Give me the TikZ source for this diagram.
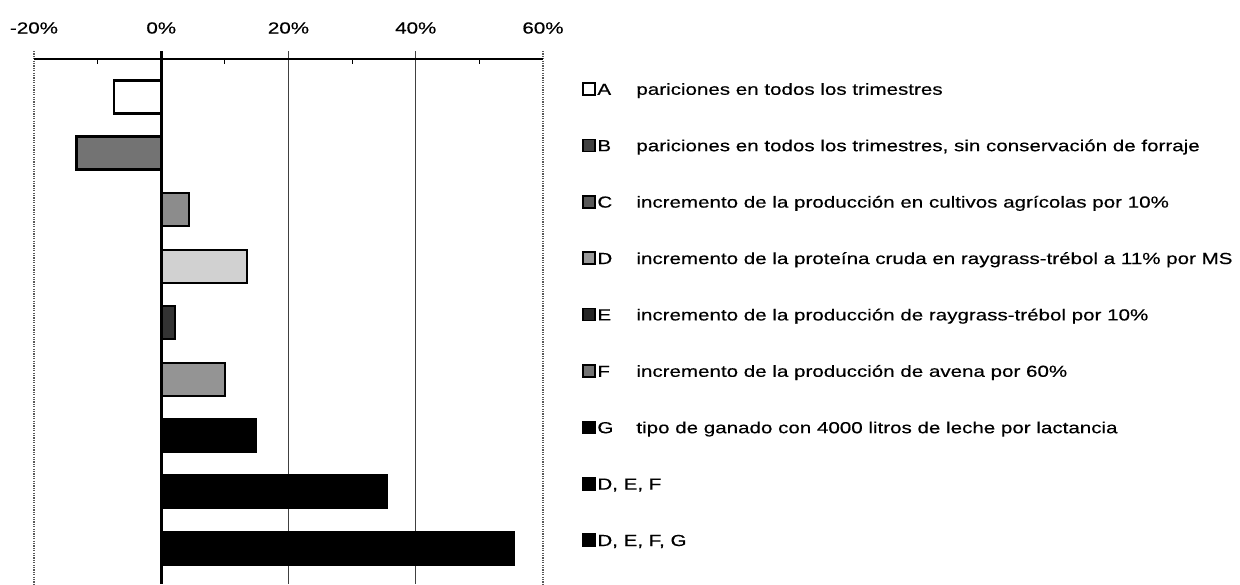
\documentclass[tikz,border=0pt]{standalone}
\usepackage{fontspec}
\setmainfont[FakeStretch=1.285,FakeBold=0.4]{Liberation Sans}
\begin{document}
\begin{tikzpicture}[x=0.5pt,y=-0.5pt,
  txt/.style={font=\fontsize{8}{9.6}\selectfont, inner sep=0pt, text=black},
  grid/.style={line width=0.5pt, black!75},
  zero/.style={line width=1.3pt, black},
  edge/.style={line width=1pt, black!65, dash pattern=on 0.6pt off 0.6pt},
  barbase/.style={draw=black, line width=1pt},
  barA/.style={barbase, line width=1.2pt, fill=white},
  barB/.style={barbase, line width=1.5pt, fill=black!55},
  barC/.style={barbase, fill=black!45},
  barD/.style={barbase, fill=black!18},
  barE/.style={barbase, fill=black!80},
  barF/.style={barbase, fill=black!42},
  barK/.style={barbase, fill=black},
  icon/.style={line width=0.8pt, draw=black}
]
\useasboundingbox (0,0) rectangle (1240,584);
% grid and frame
\draw[grid] (288.5,51) -- (288.5,584);
\draw[grid] (415.75,51) -- (415.75,584);
\draw[edge] (34,51) -- (34,584);
\draw[edge] (543,51) -- (543,584);
\draw[line width=0.75pt] (34,59) -- (543,59);
\foreach \v in {-10,10,30,50} \draw[line width=0.5pt] ({161.25+6.3625*\v},59) -- ({161.25+6.3625*\v},64);
% axis labels
\node[txt, anchor=base] (lm20) at (34,33.5) {-20\%};
\node[txt, anchor=base] (l0) at (161.25,33.5) {0\%};
\node[txt, anchor=base] (l20) at (288.5,33.5) {20\%};
\node[txt, anchor=base] (l40) at (415.75,33.5) {40\%};
\node[txt, anchor=base] (l60) at (543,33.5) {60\%};
% bars (y centre 97 + 56.4 i, height 33)
\draw[barA] (161.25,80.5) rectangle ({161.25+6.3625*-7.4},113.5);
\draw[barB] (161.25,136.9) rectangle ({161.25+6.3625*-13.3},169.9);
\draw[barC] (161.25,193.3) rectangle ({161.25+6.3625*4.3},226.3);
\draw[barD] (161.25,249.7) rectangle ({161.25+6.3625*13.4},282.7);
\draw[barE] (161.25,306.1) rectangle ({161.25+6.3625*2.1},339.1);
\draw[barF] (161.25,362.5) rectangle ({161.25+6.3625*10},395.5);
\draw[barK] (161.25,418.9) rectangle ({161.25+6.3625*14.9},451.9);
\draw[barK] (161.25,475.3) rectangle ({161.25+6.3625*35.5},508.3);
\draw[barK] (161.25,531.7) rectangle ({161.25+6.3625*55.4},564.7);
\draw[zero] (161.25,51) -- (161.25,584);
% legend
\newcommand\legrow[5]{%
  \draw[icon, #2] (583,#1-6) rectangle (595,#1+6);
  \node[txt, anchor=base west] (let#3) at (597,#1+5.8) {#4};
  \node[txt, anchor=base west] (desc#3) at (636,#1+5.8) {#5};
}
\legrow{89}{fill=white, line width=1.3pt}{A}{A}{pariciones en todos los trimestres}
\legrow{145.4}{fill=black!75}{B}{B}{pariciones en todos los trimestres, sin conservación de forraje}
\legrow{201.8}{fill=black!65}{C}{C}{incremento de la producción en cultivos agrícolas por 10\%}
\legrow{258.2}{fill=black!40}{D}{D}{incremento de la proteína cruda en raygrass-trébol a 11\% por MS}
\legrow{314.6}{fill=black!85}{E}{E}{incremento de la producción de raygrass-trébol por 10\%}
\legrow{371}{fill=black!55}{F}{F}{incremento de la producción de avena por 60\%}
\legrow{427.4}{fill=black}{G}{G}{tipo de ganado con 4000 litros de leche por lactancia}
\draw[icon, fill=black] (583,483.8-6) rectangle (595,483.8+6);
\node[txt, anchor=base west] (letDEF) at (597,483.8+5.8) {D, E, F};
\draw[icon, fill=black] (583,540.2-6) rectangle (595,540.2+6);
\node[txt, anchor=base west] (letDEFG) at (597,540.2+5.8) {D, E, F, G};
\end{tikzpicture}
\end{document}
